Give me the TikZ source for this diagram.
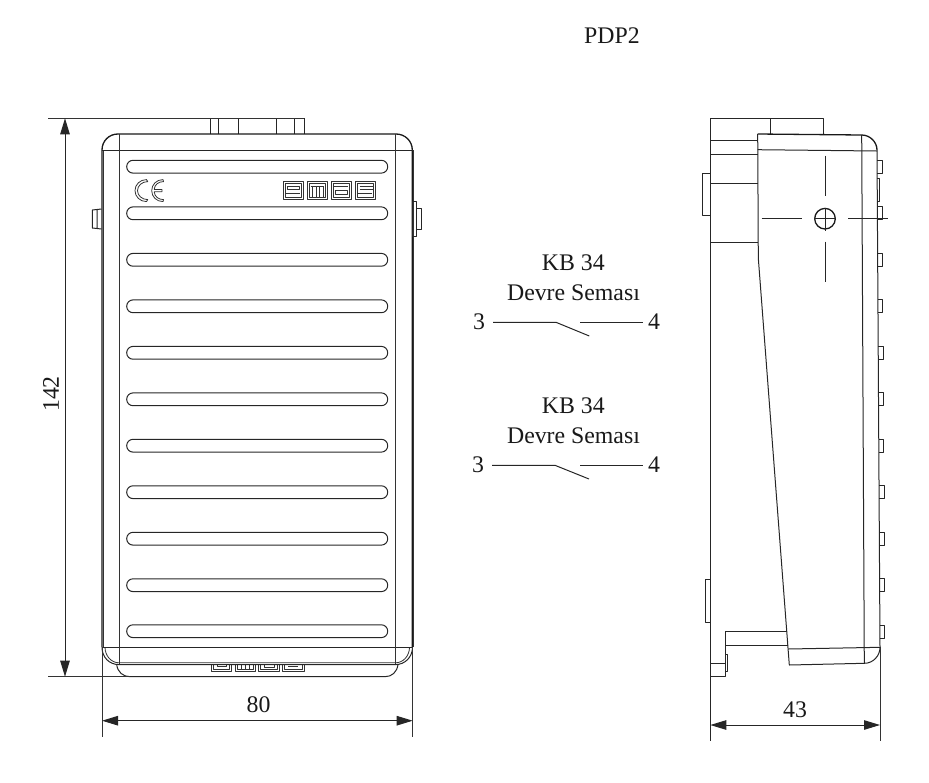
\documentclass[tikz,border=0pt]{standalone}
\usepackage{fontspec}
\setmainfont{Liberation Serif}
\usetikzlibrary{arrows.meta}
\tikzset{
  part/.style={draw=black!85,line width=1pt,line join=round},
  thick part/.style={draw=black!90,line width=1.3pt,line join=round},
  thin part/.style={draw=black!80,line width=.8pt,line join=round},
  dimline/.style={draw=black!85,line width=.95pt,{Triangle[length=16pt,width=9.5pt]}-{Triangle[length=16pt,width=9.5pt]}},
  extline/.style={draw=black!80,line width=.95pt},
  label/.style={font=\fontsize{23.8}{26}\selectfont,text=black!90,inner sep=0pt}
}
\newcommand{\emasframe}[2]{\draw[thin part] (#1,181) rectangle (#2,199.3);\draw[thin part] ({#1+2},183) rectangle ({#2-2},197.3);}
\begin{document}
\begin{tikzpicture}[x=1pt,y=-1pt]
\useasboundingbox (0,0) rectangle (929,782);
%% ---------- Front view ----------
\draw[part] (210.3,118.3) -- (210.3,134) (218.7,118.3) -- (218.7,134) (238.3,118.3) -- (238.3,134)
  (276.3,118.3) -- (276.3,134) (294.7,118.3) -- (294.7,134) (304,118.3) -- (304,134);
% lower connector
\draw[thin part] (211,664) -- (211,671.7) -- (231.7,671.7) -- (231.7,664) (213,664) -- (213,669.5) -- (229.7,669.5) -- (229.7,664) (217,664) -- (217,666.5) -- (226,666.5) -- (226,664);
\draw[thin part] (235,664) -- (235,671.7) -- (255,671.7) -- (255,664) (237,664) -- (237,669.5) -- (253,669.5) -- (253,664) (241,664) -- (241,669.5) (245,664) -- (245,669.5) (249,664) -- (249,669.5);
\draw[thin part] (258.7,664) -- (258.7,671.7) -- (279.3,671.7) -- (279.3,664) (260.7,664) -- (260.7,669.5) -- (277.3,669.5) -- (277.3,664) (264,665) -- (264,667) -- (274,667) -- (274,665);
\draw[thin part] (282.7,664) -- (282.7,671.7) -- (304,671.7) -- (304,664) (284.7,664) -- (284.7,669.5) -- (302,669.5) -- (302,664) (288,666.5) -- (298,666.5);
% body
\draw[thick part] (102,647.3) -- (102,150) .. controls (102,141) and (109,134) .. (118,134) -- (396,134) .. controls (405,134) and (412.3,141) .. (412.3,150) -- (412.3,647.3);
\draw[thin part] (103.5,150) -- (103.5,647.3) (413.5,150) -- (413.5,647.3);
\draw[part] (102,647.3) .. controls (102,657) and (109,664.6) .. (119,664.6) -- (395.5,664.6) .. controls (405,664.6) and (412.5,657) .. (412.5,647.3);
\draw[thin part] (105,647.3) .. controls (105,655.5) and (111,662.8) .. (119,662.8) -- (395.5,662.8) .. controls (403.5,662.8) and (409.5,655.5) .. (409.5,647.3);
\draw[part] (102,150.7) -- (412.7,150.7) (102,647.3) -- (412.7,647.3);
\draw[thin part] (119,134) -- (119,664) (395,134) -- (395,664);
\draw[part] (116.7,664.5) .. controls (117.5,672) and (123,676.7) .. (130,676.7) -- (385,676.7) .. controls (392,676.7) and (397,672) .. (398,664.5);
% slots
\foreach \y in {160.3,206.9,253.4,299.9,346.4,392.9,439.3,485.8,532.3,578.8,624.8}
  \draw[part,rounded corners=6.3pt] (126.7,\y) rectangle (387.7,\y+12.8);
% side clips
\draw[part] (101.5,209) -- (92.3,210) -- (92.3,228) -- (101.5,229) (97,209.5) -- (97,228.5);
\draw[part] (412.7,201.7) rectangle (416.7,236.7);
\draw[part] (416.7,208) rectangle (421,229);
% CE mark
\draw[thin part] (146.5,179.6) .. controls (140,179.6) and (135,184.5) .. (135,190.6) .. controls (135,196.7) and (140,201.6) .. (146.5,201.6) -- (147.7,199.6) .. controls (142,199.6) and (137.5,195.5) .. (137.5,190.6) .. controls (137.5,185.7) and (142,181.6) .. (147.7,181.6) -- cycle;
\draw[thin part] (163,179.6) .. controls (156.5,179.6) and (151.7,184.5) .. (151.7,190.6) .. controls (151.7,196.7) and (156.5,201.6) .. (163,201.6) -- (163.5,199.6) .. controls (158.5,199.6) and (154.5,196.5) .. (154.2,191.8) -- (162,191.8) -- (162,189.4) -- (154.2,189.4) .. controls (154.5,184.7) and (158.5,181.6) .. (163.5,181.6) -- cycle;
% emas logo
\emasframe{283.3}{303.3}\emasframe{307.3}{327.3}\emasframe{331}{351.7}\emasframe{355.7}{375.7}
\draw[thin part] (287.3,186) rectangle (299.3,189.3) (285.3,193.5) -- (299.5,193.5);
\draw[thin part] (310.5,186) -- (324,186) (312.5,186) -- (312.5,197.3) (316,186) -- (316,197.3) (319.5,186) -- (319.5,197.3) (323,186) -- (323,197.3);
\draw[thin part] (333,186) -- (347.7,186) (335,190) rectangle (347.7,194);
\draw[thin part] (359.7,186) -- (373.7,186) (357.7,193.5) -- (371.7,193.5) (359.7,189.5) -- (373.7,189.5);
% dimensions 142 and 80
\coordinate (dimTop) at (48,118.3);
\coordinate (dimTopEnd) at (304,118.3);
\coordinate (dimBot) at (48,676.7);
\coordinate (dimBotEnd) at (130,676.7);
\draw[extline] (dimTop) -- (dimTopEnd);
\draw[extline] (dimBot) -- (dimBotEnd);
\coordinate (a142) at (65,118.3);
\coordinate (b142) at (65,676.7);
\draw[dimline] (a142) -- (b142);
\node[label,rotate=90] (n142) at (51,394) {142};
\coordinate (l80a) at (102,647);
\coordinate (l80b) at (102,737);
\coordinate (r80a) at (412.7,647);
\coordinate (r80b) at (412.7,737);
\draw[extline] (l80a) -- (l80b);
\draw[extline] (r80a) -- (r80b);
\coordinate (a80) at (102,720.7);
\coordinate (b80) at (412.7,720.7);
\draw[dimline] (a80) -- (b80);
\node[label] (n80) at (258.5,705) {80};
%% ---------- Title and circuits ----------
\node[label] (title) at (612,36) {PDP2};
\node[label] (kb1) at (573.3,263) {KB 34};
\node[label] (dv1) at (573.5,292.5) {Devre Semas\i};
\node[label] (t3a) at (479,322) {3};
\node[label] (t4a) at (654,322) {4};
\coordinate (s1) at (556,322.3);
\coordinate (e1) at (589.3,336);
\coordinate (f1) at (580,322.3);
\draw[part] (t3a.east) ++(8,0.3) -- (s1) -- (e1);
\draw[part] (f1) -- ([xshift=-4.5pt,yshift=-0.3pt]t4a.west);
\node[label] (kb2) at (573.3,405.5) {KB 34};
\node[label] (dv2) at (573.5,436) {Devre Semas\i};
\node[label] (t3b) at (478,465) {3};
\node[label] (t4b) at (654,465) {4};
\coordinate (s2) at (555,465.3);
\coordinate (e2) at (589,479);
\coordinate (f2) at (580,465.3);
\draw[part] (t3b.east) ++(8,0.3) -- (s2) -- (e2);
\draw[part] (f2) -- ([xshift=-4.5pt,yshift=-0.3pt]t4b.west);
%% ---------- Side view ----------
\draw[part] (710.3,118.7) -- (823.7,118.7) -- (823.7,134) (770.3,118.7) -- (770.3,134);
\draw[part] (710.3,118.7) -- (710.3,741);
\foreach \y in {140.3,154.3,183.7,242.3} \draw[part] (710.3,\y) -- (757.9,\y);
\draw[part] (710.3,173.3) -- (702.7,173.3) -- (702.7,215.3) -- (710.3,215.3);
\draw[part] (710.3,579.3) -- (705.7,579.3) -- (705.7,622.3) -- (710.3,622.3);
% body
\draw[thick part] (757.7,134) -- (861.7,135) .. controls (870,135) and (877,142) .. (877,150);
\draw[part] (757.7,134) -- (758.3,258) -- (789.3,665) -- (864.3,663.3) .. controls (873,663.3) and (880,656) .. (880,647.3);
\draw[part] (757.7,149.7) -- (877,151) (788.3,649) -- (880,647.3);
\draw[part] (861.7,135) -- (864.3,663.3);
\draw[part] (877,150) -- (880,647.3);
% right pegs
\foreach \y in {160.3,206.7,253.3,299.6,346,392.5,439,485.5,532,578,625}
  \draw[part] ({877+(\y-150)*0.006},\y) -- ({882+(\y-150)*0.006},\y) -- ({882+(\y-150)*0.006},\y+13.2) -- ({877+(\y-150)*0.006},\y+13.2);
\draw[part] (877.2,178) -- (879.5,178) -- (879.5,201.7) -- (877.2,201.7);
% bracket
\draw[part] (787,631.7) -- (725,631.7) -- (725,676.7) -- (710.3,676.7);
\draw[part] (725,645.3) -- (788,645.3);
\draw[part] (710.3,663.3) -- (725,663.3);
\draw[part] (725,654.3) -- (727.7,654.3) -- (727.7,671.7) -- (725,671.7);
% hole and centre lines
\node[draw=black!90,line width=1.3pt,circle,minimum size=20.6pt,inner sep=0pt] (hole) at (825,218.7) {};
\draw[part] (761.7,218.7) -- (801.7,218.7) (814,218.7) -- (835.7,218.7) (848.3,218.7) -- (888.3,218.7);
\draw[part] (825.3,155.7) -- (825.3,195.7) (825.3,207.7) -- (825.3,230.7) (825.3,241.7) -- (825.3,281.7);
% dimension 43
\coordinate (r43a) at (880,647);
\coordinate (r43b) at (880,741);
\draw[extline] (r43a) -- (r43b);
\coordinate (a43) at (710.3,725);
\coordinate (b43) at (880,725);
\draw[dimline] (a43) -- (b43);
\node[label] (n43) at (795,710) {43};
\end{tikzpicture}
\end{document}
